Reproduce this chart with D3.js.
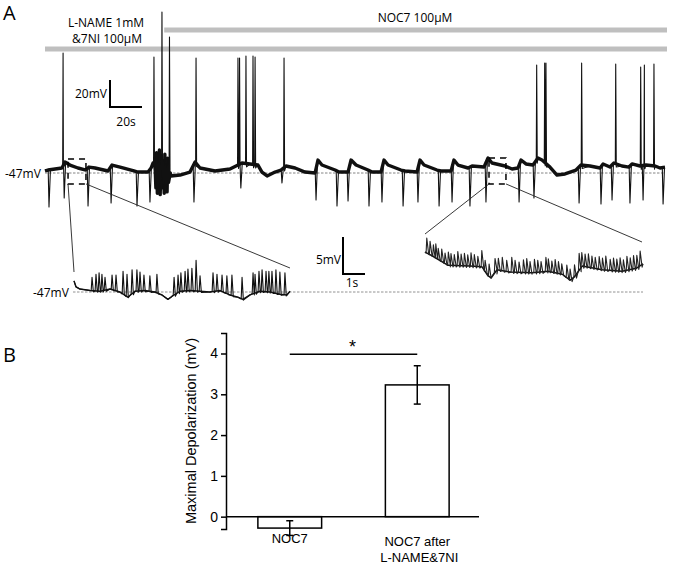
<!DOCTYPE html>
<html><head><meta charset="utf-8">
<script src="https://cdn.jsdelivr.net/npm/d3@7"></script>
<style>body{margin:0;background:#fff}svg{display:block}</style>
</head><body>
<svg id="fig" width="673" height="564"></svg>
<script>
// ---------------- DATA ----------------
// Main recording (time in s, membrane potential in mV)
const traceBaseline = [[0,-45.5],[1.9,-44.8],[6.3,-44.0],[10.6,-43.3],[12.5,-38.9],[15.6,-41.1],[20.6,-43.3],[25.6,-44.8],[27.5,-42.6],[31.3,-43.3],[39.4,-45.5],[41.9,-41.1],[46.9,-42.6],[55.6,-45.5],[58.1,-46.3],[64.4,-46.3],[66.3,-43.3],[67.5,-39.6],[68.6,-41],[78.8,-49.2],[84.4,-48.5],[90.6,-46.3],[93.8,-38.9],[96.9,-43.3],[106.3,-45.5],[115.6,-44.0],[119.4,-41.8],[123.1,-39.6],[128.1,-40.3],[133.1,-41.1],[135.6,-46.3],[138.8,-49.2],[143.8,-46.3],[147.5,-44.8],[150.6,-41.8],[156.3,-43.3],[162.5,-46.3],[168.8,-47.0],[170.6,-37.4],[173.1,-41.1],[181.3,-44.8],[183.8,-46.3],[189.4,-46.3],[191.3,-37.4],[194.4,-41.1],[201.9,-44.8],[204.4,-46.3],[210.0,-46.3],[211.9,-37.4],[214.4,-41.1],[222.5,-44.8],[225.0,-45.5],[232.5,-46.3],[234.4,-37.4],[236.9,-41.1],[245.0,-44.8],[247.5,-45.5],[253.8,-45.5],[255.6,-37.4],[258.1,-41.1],[264.4,-43.3],[266.9,-41.8],[274.4,-42.6],[276.9,-35.9],[279.4,-39.6],[287.5,-41.8],[291.9,-44.0],[295.6,-43.3],[297.5,-37.4],[300.6,-40.3],[305.0,-41.1],[308.1,-35.9],[310.6,-37.4],[315.6,-42.6],[320.0,-48.5],[325.0,-47.7],[331.9,-44.8],[335.0,-41.1],[340.6,-41.8],[346.9,-43.3],[348.8,-40.3],[353.1,-42.6],[355.6,-39.6],[360.6,-41.8],[365.0,-42.6],[366.9,-40.3],[371.9,-41.8],[375.6,-41.1],[381.3,-41.8],[384.4,-43.3],[387.5,-42.6]];
// hyperpolarizing current pulses: [time, minimum mV]
const hyperPulses = [[2.5,-72.2],[12.0,-65.5],[26.9,-71.4],[41.3,-69.2],[57.5,-71.4],[65.6,-68.5],[93.1,-68.5],[122.4,-58.1],[148.1,-54.4],[169.4,-67.0],[182.5,-71.4],[189.4,-67.7],[202.5,-71.4],[210.6,-68.5],[223.8,-71.4],[233.1,-68.5],[246.3,-71.4],[254.4,-68.5],[265.6,-71.4],[275.6,-68.5],[296.3,-68.5],[305.6,-65.5],[333.8,-69.2],[347.5,-70.0],[354.4,-67.0],[365.6,-69.2],[373.8,-67.0],[386.3,-70.0]];
// action potentials: [time, peak mV]
const spikes = [[11.3,41.9],[68.1,38.9],[73.1,72.3],[77.8,53.7],[94.4,38.2],[120.6,38.2],[121.6,38.2],[125.6,39.7],[130.0,39.7],[131.3,38.9],[149.4,38.2],[307.3,33.0],[312.3,34.5],[313.1,34.5],[335.4,34.5],[356.7,33.7],[372.3,31.5],[374.6,33.0],[380.6,33.7]];
// dense oscillation at NOC7 onset: [time, mV]
const burst = [[68.9,-45],[69.3,-58],[69.7,-32],[70.2,-62],[70.6,-36],[71.1,-60],[71.5,-30],[72.0,-63],[72.5,-34],[73.6,-58],[74.0,-38],[74.5,-62],[74.9,-33],[75.4,-57],[75.8,-40],[76.3,-61],[76.7,-36],[77.2,-54],[78.3,-47]];
// zoomed windows in main trace: [t0, t1, mVlow, mVhigh]
const zoomBox1 = [14.4, 25.6, -55.1, -36.6];
const zoomBox2 = [277.5, 288.1, -55.1, -35.9];

// Inset 1 (time s within window, mV)
const inset1Baseline = [[0,-45.5],[0.09,-46.3],[0.27,-46.6],[0.73,-46.8],[1.18,-46.9],[1.64,-46.6],[2.09,-47.0],[2.45,-47.7],[2.77,-46.9],[3.23,-46.8],[3.68,-47.0],[4.0,-47.4],[4.27,-48.0],[4.45,-47.6],[4.82,-46.9],[5.27,-46.8],[5.73,-46.9],[6.18,-47.0],[6.64,-46.8],[7.09,-47.4],[7.45,-47.7],[7.68,-48.0],[8.0,-47.4],[8.45,-46.9],[8.91,-47.0],[9.36,-47.3],[9.68,-47.4],[9.82,-46.9]];
const inset1Spikes = [[0.82,-45.0],[1.0,-44.6],[1.14,-44.4],[1.27,-44.6],[1.41,-45.0],[1.73,-44.7],[1.91,-44.7],[2.23,-44.2],[2.41,-44.6],[2.64,-44.0],[2.86,-44.0],[3.0,-44.3],[3.18,-44.7],[3.45,-44.8],[3.77,-44.6],[4.55,-45.0],[4.73,-44.7],[4.86,-44.4],[5.05,-44.2],[5.18,-43.9],[5.36,-43.8],[5.55,-42.7],[5.73,-44.8],[6.32,-44.4],[6.5,-44.6],[6.73,-44.7],[6.95,-44.8],[7.18,-44.7],[7.64,-45.0],[8.14,-44.4],[8.23,-44.6],[8.41,-44.2],[8.55,-44.0],[8.73,-44.2],[8.86,-44.2],[9.0,-44.2],[9.18,-44.0],[9.36,-44.3],[9.59,-44.4]];

// Inset 2
const inset2Baseline = [[0,-41.6],[0.32,-42.1],[1.05,-43.4],[2.05,-43.5],[2.59,-43.6],[2.86,-44.8],[3.0,-45.1],[3.27,-44.0],[3.86,-44.3],[4.86,-44.4],[5.59,-44.2],[6.23,-44.6],[6.59,-45.4],[6.77,-45.0],[7.14,-43.5],[8.05,-44.0],[8.95,-44.2],[9.59,-43.8],[9.9,-43.2]];
const inset2SpikeTimes = [0.08,0.23,0.38,0.49,0.6,0.76,0.91,1.06,1.18,1.33,1.49,1.64,1.79,1.94,2.09,2.24,2.4,2.58,2.73,2.91,3.18,3.33,3.51,3.71,3.94,4.09,4.27,4.47,4.62,4.77,4.97,5.12,5.27,5.49,5.6,5.76,5.91,6.06,6.21,6.44,6.59,6.79,7.0,7.12,7.27,7.42,7.58,7.73,7.91,8.06,8.21,8.41,8.56,8.71,8.86,9.01,9.17,9.32,9.47,9.62,9.77];
const inset2SpikeAmps = [2.0,1.8,1.6,1.9,1.5,1.7,1.4,1.8,1.6,1.5,1.9,1.6,1.7,1.5,1.8,1.6,1.4,2.2,1.5,1.7,1.9,1.6,1.8,1.5,2.0,1.6,1.4,1.7,1.9,1.5,1.8,1.6,1.4,1.9,1.7,1.5,1.8,1.6,1.4,1.7,1.5,1.6,2.3,1.9,1.7,1.8,1.6,1.5,1.7,1.6,1.9,1.5,1.7,1.6,1.8,1.5,1.9,1.6,1.8,1.7,2.0];

// Drug application bars
const drugLabels = [["L-NAME 1mM","&7NI 100µM"],["NOC7 100µM"]];
const drugStart = [0, 74.5];   // s
const drugEnd = [387.5, 387.5];

// Scale bars
const mainScaleBar = {mV:20, s:20};
const insetScaleBar = {mV:5, s:1};

// Panel B
const barCategories = ["NOC7","NOC7 after|L-NAME&7NI"];
const barMeans = [-0.28, 3.23];
const barSEM = [0.18, 0.47];
const yTicks = [0,1,2,3,4];
const yDomainB = [-0.3, 4.5];
const sigLevel = 3.98;

// ---------------- DRAW ----------------
const svg = d3.select("#fig");
const FA = "'Open Sans', sans-serif";
const FB = "'Liberation Sans', Arial, sans-serif";

const xM = d3.scaleLinear().domain([0,387.5]).range([45,665]);
const yM = d3.scaleLinear().domain([-47,20]).range([173,173-67*1.35]);

function interp(base,t){
  if(t<=base[0][0]) return base[0][1];
  for(let i=1;i<base.length;i++){
    if(t<=base[i][0]){const a=base[i-1],b=base[i];return a[1]+(b[1]-a[1])*(t-a[0])/(b[0]-a[0]);}
  }
  return base[base.length-1][1];
}
function build(base, events, extra, excl){
  const keep = base.filter(p=>!events.some(e=>p[0]>e.t-e.lo&&p[0]<e.t+e.hi) && !(excl && p[0]>excl[0] && p[0]<excl[1]));
  const pts = keep.concat(...events.map(e=>e.verts), extra||[]);
  pts.sort((a,b)=>a[0]-b[0]);
  return pts;
}

// panel letters
svg.append("text").attr("x",3).attr("y",20).attr("font-family",FA).attr("font-size",20).text("A");
svg.append("text").attr("x",3).attr("y",362).attr("font-family",FA).attr("font-size",20).text("B");

// drug bars
const barY = [49, 30];
drugStart.forEach((s,i)=>{
  svg.append("line").attr("x1",xM(s)).attr("x2",xM(drugEnd[i])+2).attr("y1",barY[i]).attr("y2",barY[i])
    .attr("stroke","#bfbfbf").attr("stroke-width",5);
});
svg.append("text").attr("x",106).attr("y",27).attr("text-anchor","middle").attr("font-family",FA).attr("font-size",12).text(drugLabels[0][0]);
svg.append("text").attr("x",107).attr("y",43).attr("text-anchor","middle").attr("font-family",FA).attr("font-size",12).text(drugLabels[0][1]);
svg.append("text").attr("x",415).attr("y",22).attr("text-anchor","middle").attr("font-family",FA).attr("font-size",12).text(drugLabels[1][0]);

// dashed -47 mV line
svg.append("line").attr("x1",xM(0)).attr("x2",xM(387.5)).attr("y1",yM(-47)).attr("y2",yM(-47))
  .attr("stroke","#666").attr("stroke-width",0.8).attr("stroke-dasharray","2.5,1.5");
svg.append("text").attr("x",5).attr("y",177.5).attr("font-family",FA).attr("font-size",12).text("-47mV");

// main trace
const mainEvents = [];
hyperPulses.forEach(([t,m])=>mainEvents.push({t,lo:0.5,hi:0.9,verts:[[t-0.5,interp(traceBaseline,t-0.5)],[t,m],[t+0.9,interp(traceBaseline,t+0.9)]]}));
spikes.forEach(([t,p])=>{const b=interp(traceBaseline,t);mainEvents.push({t,lo:0.25,hi:0.35,verts:[[t-0.25,b],[t,p],[t+0.35,b-2.5]]});});
const lineM = d3.line().x(d=>xM(d[0])).y(d=>yM(d[1]));
const thick = build(traceBaseline, [], burst, [68.7,78.7]);
svg.append("path").attr("d",lineM(thick)).attr("fill","none").attr("stroke","#111").attr("stroke-width",3.4).attr("stroke-linejoin","round");
const full = build(traceBaseline, mainEvents, burst, [68.7,78.7]);
svg.append("path").attr("d",lineM(full)).attr("fill","none").attr("stroke","#111").attr("stroke-width",1.1).attr("stroke-linejoin","round");

// main scale bar
const sbx = 110, sby = 107;
const sbh = yM(-47) - yM(-47+mainScaleBar.mV);
const sbw = xM(mainScaleBar.s) - xM(0);
svg.append("path").attr("d",`M${sbx},${sby-sbh}V${sby}H${sbx+sbw}`).attr("fill","none").attr("stroke","#000").attr("stroke-width",2);
svg.append("text").attr("x",sbx-3).attr("y",98).attr("text-anchor","end").attr("font-family",FA).attr("font-size",12).text(mainScaleBar.mV+"mV");
svg.append("text").attr("x",sbx+sbw/2).attr("y",126).attr("text-anchor","middle").attr("font-family",FA).attr("font-size",12).text(mainScaleBar.s+"s");

// zoom boxes
[zoomBox1, zoomBox2].forEach(b=>{
  svg.append("rect").attr("x",xM(b[0])).attr("y",yM(b[3])).attr("width",xM(b[1])-xM(b[0])).attr("height",yM(b[2])-yM(b[3]))
    .attr("fill","none").attr("stroke","#000").attr("stroke-width",1.5).attr("stroke-dasharray","6,5");
});

// insets
const xI1 = d3.scaleLinear().domain([0,9.82]).range([74,290]);
const xI2 = d3.scaleLinear().domain([0,9.9]).range([425,643]);
const yI = d3.scaleLinear().domain([-47,-42]).range([292,292-5*7.4]);

// connectors
const conn = [
  [xM(zoomBox1[0]),yM(zoomBox1[2]),74,272],
  [xM(zoomBox1[1]),yM(zoomBox1[2]),290,268],
  [xM(zoomBox2[0]),yM(zoomBox2[2]),425,234],
  [xM(zoomBox2[1]),yM(zoomBox2[2]),642,242]
];
conn.forEach(c=>svg.append("line").attr("x1",c[0]).attr("y1",c[1]).attr("x2",c[2]).attr("y2",c[3]).attr("stroke","#222").attr("stroke-width",0.9));

svg.append("line").attr("x1",73).attr("x2",643).attr("y1",yI(-47)).attr("y2",yI(-47))
  .attr("stroke","#777").attr("stroke-width",0.8).attr("stroke-dasharray","2.5,1.5");
svg.append("text").attr("x",33).attr("y",296.5).attr("font-family",FA).attr("font-size",12).text("-47mV");

const line1 = d3.line().x(d=>xI1(d[0])).y(d=>yI(d[1]));
const ev1 = inset1Spikes.map(([t,p])=>{const b=interp(inset1Baseline,t);return {t,lo:0.04,hi:0.06,verts:[[t-0.04,b],[t,p],[t+0.06,b-0.15]]};});
svg.append("path").attr("d",line1(inset1Baseline)).attr("fill","none").attr("stroke","#111").attr("stroke-width",1.4).attr("stroke-linejoin","round");
svg.append("path").attr("d",line1(build(inset1Baseline,ev1))).attr("fill","none").attr("stroke","#111").attr("stroke-width",1.1).attr("stroke-linejoin","round");

const line2 = d3.line().x(d=>xI2(d[0])).y(d=>yI(d[1]));
const ev2 = inset2SpikeTimes.map((t,i)=>{const b=interp(inset2Baseline,t);return {t,lo:0.03,hi:0.09,verts:[[t-0.03,b],[t,b+inset2SpikeAmps[i]],[t+0.09,b-0.2]]};});
svg.append("path").attr("d",line2(inset2Baseline)).attr("fill","none").attr("stroke","#111").attr("stroke-width",1.5).attr("stroke-linejoin","round");
svg.append("path").attr("d",line2(build(inset2Baseline,ev2))).attr("fill","none").attr("stroke","#222").attr("stroke-width",1.1).attr("stroke-linejoin","round");

// inset scale bar
const isx = 343, isy = 274;
const ish = yI(-47) - yI(-47+insetScaleBar.mV);
const isw = xI1(insetScaleBar.s) - xI1(0);
svg.append("path").attr("d",`M${isx},${isy-ish}V${isy}H${isx+isw}`).attr("fill","none").attr("stroke","#000").attr("stroke-width",2);
svg.append("text").attr("x",isx-2).attr("y",264).attr("text-anchor","end").attr("font-family",FA).attr("font-size",12).text(insetScaleBar.mV+"mV");
svg.append("text").attr("x",isx+isw/2-2).attr("y",287).attr("text-anchor","middle").attr("font-family",FA).attr("font-size",12).text(insetScaleBar.s+"s");

// ---------------- PANEL B ----------------
const yB = d3.scaleLinear().domain(yDomainB).range([528.9,333.1]);
const xB = d3.scaleBand().domain(barCategories).range([226,481]).paddingInner(0.5).paddingOuter(0.25);
const axisX = 226;
const gAx = svg.append("g").attr("transform",`translate(${axisX},0)`)
  .call(d3.axisLeft(yB).tickValues(yTicks).tickSize(5).tickSizeOuter(5).tickPadding(3).tickFormat(d3.format("d")));
gAx.select(".domain").attr("stroke-width",1.5);
gAx.selectAll(".tick line").attr("stroke-width",1.5);
gAx.selectAll(".tick text").attr("font-family",FB).attr("font-size",14).attr("fill","#000");

svg.append("text").attr("transform",`translate(196,431) rotate(-90)`).attr("text-anchor","middle")
  .attr("font-family",FB).attr("font-size",14.5).text("Maximal Depolarization (mV)");

// bars
barCategories.forEach((c,i)=>{
  const v = barMeans[i];
  svg.append("rect").attr("x",xB(c)).attr("width",xB.bandwidth())
    .attr("y",Math.min(yB(v),yB(0))).attr("height",Math.abs(yB(v)-yB(0)))
    .attr("fill","#fff").attr("stroke","#000").attr("stroke-width",1.5);
});
// zero line
svg.append("line").attr("x1",axisX).attr("x2",479).attr("y1",yB(0)).attr("y2",yB(0)).attr("stroke","#000").attr("stroke-width",1.5);
// error bars
barCategories.forEach((c,i)=>{
  const cx = xB(c)+xB.bandwidth()/2;
  const lo = yB(barMeans[i]-barSEM[i]), hi = yB(barMeans[i]+barSEM[i]);
  svg.append("line").attr("x1",cx).attr("x2",cx).attr("y1",lo).attr("y2",hi).attr("stroke","#000").attr("stroke-width",1.5);
  [lo,hi].forEach(yy=>svg.append("line").attr("x1",cx-3.5).attr("x2",cx+3.5).attr("y1",yy).attr("y2",yy).attr("stroke","#000").attr("stroke-width",1.5));
});
// significance
const c1 = xB(barCategories[0])+xB.bandwidth()/2, c2 = xB(barCategories[1])+xB.bandwidth()/2;
svg.append("line").attr("x1",c1).attr("x2",c2).attr("y1",yB(sigLevel)).attr("y2",yB(sigLevel)).attr("stroke","#000").attr("stroke-width",1.5);
svg.append("text").attr("x",(c1+c2)/2-1).attr("y",yB(sigLevel)-1).attr("text-anchor","middle").attr("font-family",FB).attr("font-size",18).text("*");
// category labels
barCategories.forEach((c,i)=>{
  const cx = xB(c)+xB.bandwidth()/2;
  c.split("|").forEach((ln,j)=>{
    svg.append("text").attr("x",cx+(j*2)).attr("y",(i===0?543:546)+j*16).attr("text-anchor","middle")
      .attr("font-family",FB).attr("font-size",13).text(ln);
  });
});
</script>
</body></html>
